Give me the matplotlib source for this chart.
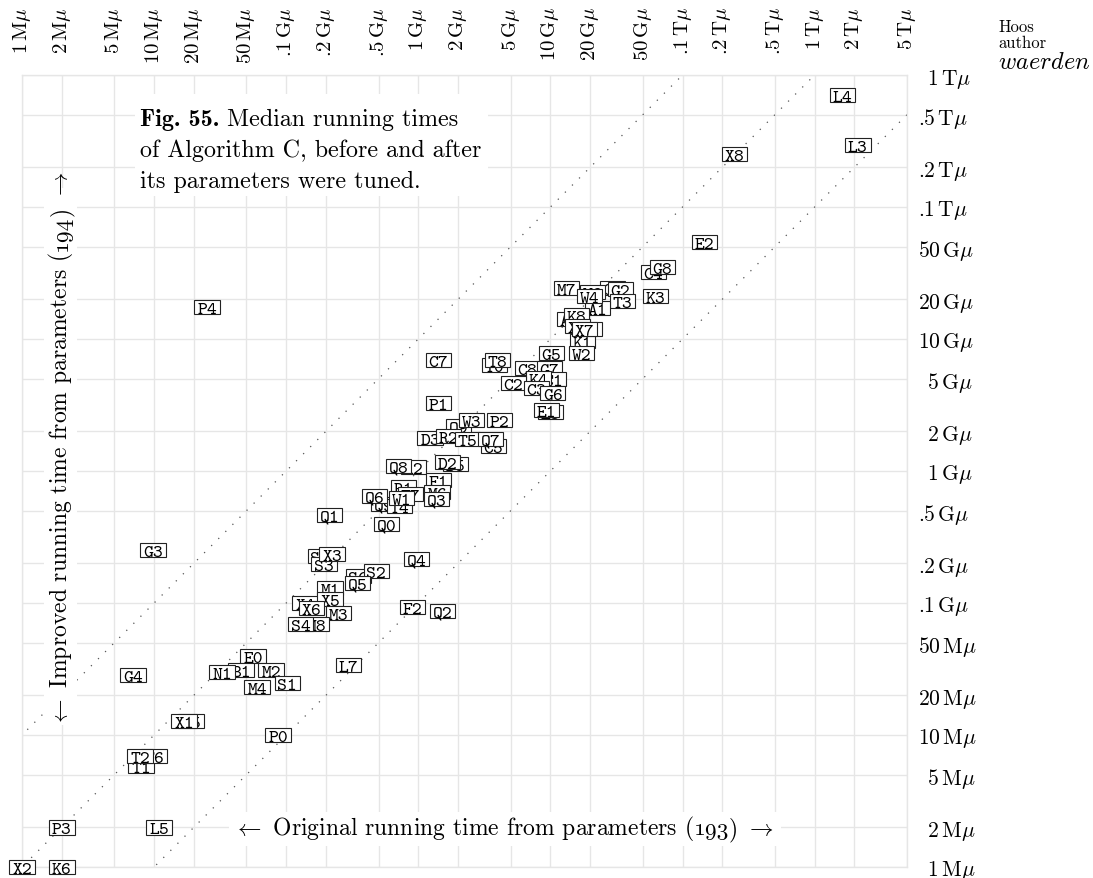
import matplotlib
matplotlib.use("Agg")
import matplotlib.pyplot as plt
from matplotlib.patches import Rectangle
from matplotlib.transforms import ScaledTranslation, blended_transform_factory

plt.rcParams["mathtext.fontset"] = "cm"
plt.rcParams["font.family"] = "cmr10"
plt.rcParams["axes.formatter.use_mathtext"] = True

# ---- data (running times in mems) ----
x_ticks = [1e6, 2e6, 5e6, 1e7, 2e7, 5e7, 1e8, 2e8, 5e8, 1e9, 2e9, 5e9,
           1e10, 2e10, 5e10, 1e11, 2e11, 5e11, 1e12, 2e12, 5e12]
x_tick_labels = ["1 M", "2 M", "5 M", "10 M", "20 M", "50 M", ".1 G", ".2 G", ".5 G",
                 "1 G", "2 G", "5 G", "10 G", "20 G", "50 G", ".1 T", ".2 T", ".5 T",
                 "1 T", "2 T", "5 T"]
y_ticks = x_ticks[:-2]
y_tick_labels = x_tick_labels[:-2]

names = ["L4", "L3", "X8", "E2", "C4", "G8", "K3", "M7", "C6", "G2",
         "T3", "A1", "W6", "W4", "A3", "K8", "K1", "X0", "K7", "X7",
         "W2", "G5", "C7", "T0", "T8", "C8", "G7", "C1", "K4", "C2",
         "C3", "G6", "P1", "E3", "E1", "Q9", "W3", "P2", "D3", "R2",
         "T5", "C5", "Q7", "A2", "Q8", "D5", "D2", "F1", "R1", "T7",
         "M6", "Q3", "Q9", "T4", "Q6", "W1", "Q1", "Q0", "G3", "S5",
         "S3", "X3", "Q4", "S6", "S2", "Q5", "M1", "X4", "X5", "X6",
         "M3", "M8", "S4", "F2", "Q2", "E0", "B1", "N1", "M2", "M4",
         "S1", "L7", "G4", "K5", "X1", "P0", "T1", "T6", "T2", "P3",
         "L5", "X2", "K6", "P4"]
original = [1.63e12, 2.12e12, 2.48e11, 1.47e11, 6.03e10, 7.05e10, 6.24e10, 1.32e10, 2.95e10, 3.39e10,
            3.51e10, 2.27e10, 2.08e10, 1.97e10, 1.39e10, 1.57e10, 1.75e10, 1.60e10, 1.97e10, 1.81e10,
            1.72e10, 1.02e10, 1.42e9, 3.77e9, 3.97e9, 6.70e9, 9.82e9, 1.05e10, 8.11e9, 5.25e9,
            7.83e9, 1.04e10, 1.42e9, 1.0e10, 9.33e9, 2.01e9, 2.52e9, 4.11e9, 1.23e9, 1.69e9,
            2.35e9, 3.70e9, 3.51e9, 9.16e8, 7.05e8, 1.91e9, 1.66e9, 1.42e9, 7.69e8, 8.70e8,
            1.39e9, 1.37e9, 5.52e8, 7.18e8, 4.64e8, 7.43e8, 2.12e8, 5.73e8, 9.83e6, 1.81e8,
            1.94e8, 2.23e8, 9.66e8, 3.51e8, 4.81e8, 3.45e8, 2.15e8, 1.39e8, 2.15e8, 1.55e8,
            2.48e8, 1.69e8, 1.28e8, 9.01e8, 1.52e9, 5.62e7, 4.56e7, 3.27e7, 7.69e7, 6.03e7,
            1.02e8, 2.95e8, 6.93e6, 1.91e7, 1.69e7, 8.70e7, 7.97e6, 1.0e7, 7.83e6, 2.0e6,
            1.09e7, 1.0e6, 2.0e6, 2.52e7]
improved = [7.05e11, 2.95e11, 2.52e11, 5.43e10, 3.22e10, 3.51e10, 2.12e10, 2.43e10, 2.43e10, 2.39e10,
            1.94e10, 1.72e10, 2.27e10, 2.12e10, 1.42e10, 1.52e10, 9.66e9, 1.25e10, 1.19e10, 1.19e10,
            7.83e9, 7.83e9, 6.93e9, 6.35e9, 6.93e9, 6.03e9, 6.03e9, 4.98e9, 5.07e9, 4.64e9,
            4.25e9, 3.90e9, 3.27e9, 2.80e9, 2.90e9, 2.19e9, 2.43e9, 2.43e9, 1.78e9, 1.84e9,
            1.75e9, 1.55e9, 1.75e9, 1.07e9, 1.09e9, 1.13e9, 1.17e9, 8.55e8, 7.56e8, 6.70e8,
            6.93e8, 6.14e8, 5.62e8, 5.43e8, 6.47e8, 6.24e8, 4.64e8, 3.97e8, 2.52e8, 2.27e8,
            1.97e8, 2.35e8, 2.15e8, 1.60e8, 1.75e8, 1.42e8, 1.30e8, 1.0e8, 1.07e8, 9.16e7,
            8.40e7, 6.93e7, 6.93e7, 9.33e7, 8.70e7, 3.97e7, 3.11e7, 3.00e7, 3.11e7, 2.31e7,
            2.48e7, 3.39e7, 2.85e7, 1.28e7, 1.28e7, 1.0e7, 5.82e6, 6.93e6, 6.93e6, 2.0e6,
            2.0e6, 1.0e6, 1.0e6, 1.75e10]

ratios = [10, 1, 0.1]   # reference diagonals: tuned = ratio * original

GRID = "#e6e6e6"
W, H = 1093, 879

fig = plt.figure(figsize=(W / 100, H / 100), dpi=100)
ax = fig.add_axes([22 / W, 11 / H, 885 / W, 792 / H])
ax.set_xscale("log")
ax.set_yscale("log")
ax.set_xlim(1e6, 5e12)
ax.set_ylim(1e6, 1e12)
ax.set_xticks(x_ticks, labels=[""] * len(x_ticks))
ax.set_yticks(y_ticks, labels=[""] * len(y_ticks))
ax.minorticks_off()
ax.tick_params(length=0)
ax.grid(True, color=GRID, linewidth=1.0, zorder=0)
ax.set_axisbelow(True)
for sp in ax.spines.values():
    sp.set_color(GRID)
    sp.set_linewidth(1.0)

# Diagonal dotted guide lines
for r in ratios:
    ax.plot([1e5, 1e14], [1e5 * r, 1e14 * r], color="#555555", linewidth=0.9,
            linestyle=(0, (1, 7)), zorder=1)


def unit_label(s, pad=False):
    num, unit = s.split()
    lead = r"$\enspace$" if pad and len(num) == 1 else ""
    return lead + num + r"$\,$" + unit + r"$\mu$"


# Tick labels: rotated across the top, plain on the right
top = blended_transform_factory(ax.transData, fig.transFigure)
for v, s in zip(x_ticks, x_tick_labels):
    ax.text(v, 1 - 7 / H, unit_label(s), transform=top, rotation=90,
            ha="center", va="top", fontsize=15, clip_on=False)
right = blended_transform_factory(fig.transFigure, ax.transData)
for v, s in zip(y_ticks, y_tick_labels):
    ax.text(918 / W, v, unit_label(s, pad=True), transform=right,
            ha="left", va="center_baseline", fontsize=15.5, clip_on=False)

# Boxed labels, drawn in order so later ones cover earlier ones
bw, bh = 0.255, 0.145  # box size in inches
for i, (name, xv, yv) in enumerate(zip(names, original, improved)):
    trans = fig.dpi_scale_trans + ScaledTranslation(xv, yv, ax.transData)
    ax.add_patch(Rectangle((-bw / 2, -bh / 2), bw, bh, transform=trans,
                           facecolor="white", edgecolor="#222222", linewidth=0.8,
                           clip_on=False, zorder=3 + i * 0.01))
    ax.text(0, -0.057, name, transform=trans, family="cmtt10", fontsize=13.5,
            ha="center", va="baseline", clip_on=False, zorder=3 + i * 0.01 + 0.005)

renderer = fig.canvas.get_renderer()
inch = fig.dpi_scale_trans


def text_len(s, fam, size):
    t = fig.text(0, 0, s, family=fam, fontsize=size)
    w = t.get_window_extent(renderer).width
    t.remove()
    return w


def run_of_text(cx, cy, pieces, size, vertical=False):
    """Write pieces (text, family) one after another, centred on pixel (cx, cy)."""
    lens = [text_len(s, f, size) for s, f in pieces]
    pos = -sum(lens) / 2
    for (s, f), n in zip(pieces, lens):
        if vertical:
            # reads bottom to top, baseline on the right-hand side
            fig.text((cx + 7) / 100, (H - cy + pos) / 100, s, family=f,
                     fontsize=size, rotation=90, rotation_mode="anchor",
                     ha="left", va="baseline", transform=inch, zorder=5)
        else:
            fig.text((cx + pos) / 100, (H - cy - 6) / 100, s, family=f, fontsize=size,
                     ha="left", va="baseline", transform=inch, zorder=5)
        pos += n


# Caption with white block behind it
fig.patches.append(Rectangle((135 / W, 1 - 197 / H), 353 / W, 102 / H,
                             transform=fig.transFigure, facecolor="white",
                             edgecolor="none", zorder=2))
cap_size = 17.3
bold = fig.text(140 / W, 1 - 126 / H, "Fig. 55.", family="cmb10", fontsize=cap_size,
                ha="left", va="baseline", zorder=4)
bx = bold.get_window_extent(renderer).x1
fig.text((bx + 8) / W, 1 - 126 / H, "Median running times", fontsize=cap_size,
         ha="left", va="baseline", zorder=4)
for k, line in enumerate(["of Algorithm C, before and after", "its parameters were tuned."]):
    fig.text(140 / W, 1 - (157 + 31 * k) / H, line, fontsize=cap_size, ha="left",
             va="baseline", zorder=4)

# Axis titles sitting inside the plot, old-style figures for the equation numbers
lab_size = 17
fig.patches.append(Rectangle((229 / W, 1 - 847 / H), 552 / W, 34 / H,
                             transform=fig.transFigure, facecolor="white",
                             edgecolor="none", zorder=2))
run_of_text(503, 829, [(r"$\leftarrow$ Original running time from parameters (", "cmr10"),
                       ("193", "cmmi10"), (")", "cmr10"), (r"$\ \rightarrow$", "cmr10")],
            lab_size)
fig.patches.append(Rectangle((44 / W, 1 - 726 / H), 33 / W, 537 / H,
                             transform=fig.transFigure, facecolor="white",
                             edgecolor="none", zorder=2))
run_of_text(60, 449, [(r"$\leftarrow$ Improved running time from parameters (", "cmr10"),
                      ("194", "cmmi10"), (")", "cmr10"), (r"$\ \rightarrow$", "cmr10")],
            lab_size, vertical=True)

# Header in the top right corner
fig.text(998 / W, 1 - 32 / H, "Hoos", fontsize=12, ha="left", va="baseline")
fig.text(998 / W, 1 - 48 / H, "author", fontsize=12, ha="left", va="baseline")
fig.text(998 / W, 1 - 69 / H, r"$\mathit{waerden}$", fontsize=17.5, ha="left",
         va="baseline")

fig.savefig("out.png", dpi=100, facecolor="white")
